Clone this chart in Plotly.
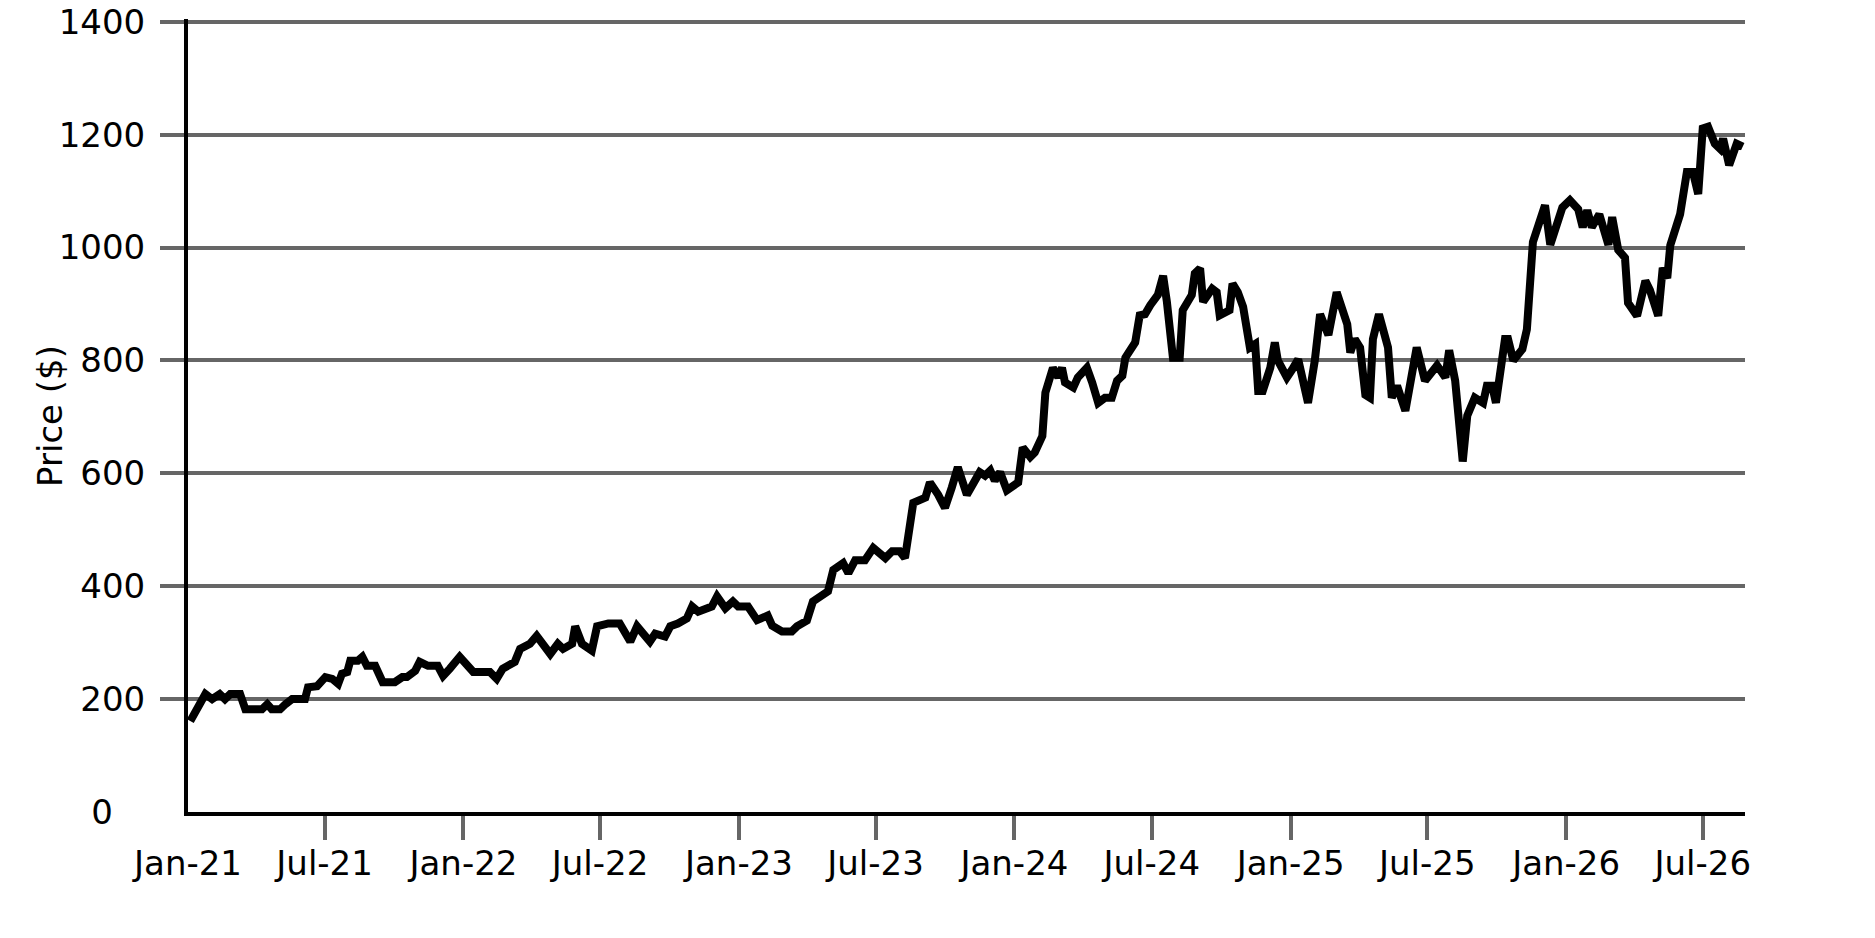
import pandas as pd
import plotly.graph_objects as go

# price series: day offset from 2021-01-01 and price in $
start = "2021-01-01"
day = [3, 23, 32, 42, 49, 56, 69, 76, 98, 105, 111, 122, 129, 138, 155, 159,
       171, 182, 191, 199, 204, 211, 215, 225, 231, 237, 248, 258, 274, 284,
       290, 301, 307, 318, 331, 338, 347, 360,
       378, 400, 409, 417, 433, 440, 453, 462, 480, 490, 497, 509, 513, 522,
       535, 542, 557, 572, 586, 595, 612, 619, 632, 639, 649, 661, 668, 676,
       694, 701, 712, 722, 729,
       742, 754, 768, 774, 787, 800, 807, 820, 828, 848, 855, 868, 875, 884,
       897, 908, 924, 933, 943, 950, 957, 961, 977, 983, 994, 1003, 1012,
       1020, 1032, 1040, 1049, 1056, 1063, 1069, 1076, 1085, 1092, 1100,
       1106, 1116, 1122,
       1132, 1136, 1146, 1153, 1158, 1162, 1173, 1179, 1191, 1198, 1206,
       1215, 1224, 1231, 1238, 1242, 1251, 1255, 1261, 1268, 1275, 1285,
       1292, 1297, 1305, 1314, 1318, 1330, 1334, 1341, 1345, 1357, 1363,
       1367, 1380, 1384, 1391, 1398, 1407, 1414, 1418, 1424, 1434, 1440,
       1444, 1456, 1463, 1471, 1484, 1493, 1500,
       1511, 1522, 1536, 1540, 1546, 1553, 1560, 1566, 1570, 1578, 1590,
       1595, 1602, 1613, 1628, 1639, 1646, 1655, 1666, 1671, 1679, 1689,
       1695, 1705, 1716, 1721, 1728, 1733, 1745, 1749, 1756, 1768, 1774, 1782,
       1798, 1805, 1821, 1831, 1842, 1848, 1854, 1860, 1870, 1882, 1887,
       1895, 1904, 1908, 1920, 1931, 1937, 1948, 1954, 1960, 1964, 1977,
       1986, 1994, 2001, 2007, 2014, 2023, 2030, 2034, 2042, 2052, 2060]
price = [161, 209, 200, 209, 200, 209, 209, 182, 182, 191, 182, 182, 191, 200,
         200, 221, 223, 239, 236, 227, 245, 248, 268, 268, 275, 259, 259, 230,
         230, 239, 239, 250, 266, 259, 259, 241, 254, 275,
         248, 248, 236, 254, 266, 289, 298, 312, 280, 298, 289, 298, 329, 298,
         286, 329, 334, 334, 302, 329, 302, 316, 311, 329, 334, 343, 364, 355,
         364, 382, 361, 373, 364,
         364, 340, 348, 330, 320, 320, 329, 339, 373, 391, 429, 441, 423, 446,
         446, 468, 450, 462, 462, 450, 530, 548, 557, 584, 562, 539, 575,
         611, 562, 579, 602, 596, 605, 587, 602, 570, 575, 584,
         646, 629, 637,
         666, 743, 787, 770, 787, 761, 752, 770, 787, 761, 725,
         734, 734, 764, 773, 805, 820, 832, 880, 882, 898, 916,
         950, 904, 805, 805, 889, 916, 954, 963, 904, 927, 921,
         880, 889, 936, 921, 895, 823, 829, 746, 746, 787, 832,
         800, 770, 784, 802, 725, 800, 882,
         845, 921, 864, 814, 838, 823, 739, 734, 838, 882, 823,
         734, 755, 711, 823, 764, 775, 791, 770, 818, 764, 621,
         702, 734, 725, 755, 755, 725, 838, 838, 800, 820, 855, 1010,
         1075, 1005, 1071, 1084, 1068, 1036, 1066, 1036, 1059, 1005, 1054,
         996, 982, 902, 879, 941, 925, 879, 964, 946, 1004, 1059,
         1134, 1134, 1095, 1211, 1214, 1184, 1175, 1193, 1146, 1184, 1179]

dates = pd.Timestamp(start) + pd.to_timedelta(day, unit="D")

tick_dates = pd.date_range("2021-01-01", "2026-07-01", freq="6MS")
tick_text = [d.strftime("%b-%y") for d in tick_dates]
y_ticks = list(range(0, 1401, 200))
# the "0" label sits further left than the others in the original
y_text = ["0\u00a0\u00a0\u00a0"] + [str(v) for v in y_ticks[1:]]

fig = go.Figure()
fig.add_trace(go.Scatter(x=dates, y=price, mode="lines",
                         line=dict(color="black", width=8),
                         showlegend=False))

# page body has an 8px margin, so the figure is a bit smaller than the window
fig.update_layout(
    width=1867, height=930,
    paper_bgcolor="white", plot_bgcolor="white",
    font=dict(family="DejaVu Sans", size=34, color="black"),
    margin=dict(l=180, r=130, t=11, b=126),
    annotations=[dict(text="Price ($)", textangle=-90,
                      xref="paper", yref="paper", x=-0.089, y=0.5,
                      xanchor="center", yanchor="middle", showarrow=False,
                      font=dict(size=34))],
)
# major ticks only carry the labels; visible tick marks skip the first one
fig.update_xaxes(range=["2021-01-01", "2026-08-26"], automargin=False,
                 tickvals=tick_dates, ticktext=tick_text,
                 showgrid=False, zeroline=False,
                 showline=True, linecolor="black", linewidth=4,
                 ticks="outside", tickcolor="rgba(0,0,0,0)", ticklen=24,
                 ticklabelstandoff=-6,
                 minor=dict(tickmode="array", tickvals=tick_dates[1:],
                            ticks="outside", tickcolor="#666666",
                            tickwidth=3.5, ticklen=24, showgrid=False))
fig.update_yaxes(range=[0, 1405], automargin=False,
                 tickvals=y_ticks, ticktext=y_text,
                 ticklabeloverflow="allow",
                 showgrid=True, gridcolor="#666666", gridwidth=3.5,
                 zeroline=False,
                 showline=True, linecolor="black", linewidth=4,
                 ticks="outside", tickcolor="rgba(0,0,0,0)", ticklen=24,
                 ticklabelstandoff=8,
                 minor=dict(tickmode="array", tickvals=y_ticks[1:],
                            ticks="outside", tickcolor="#666666",
                            tickwidth=3.5, ticklen=24, showgrid=False))

fig.write_html("out.html")
